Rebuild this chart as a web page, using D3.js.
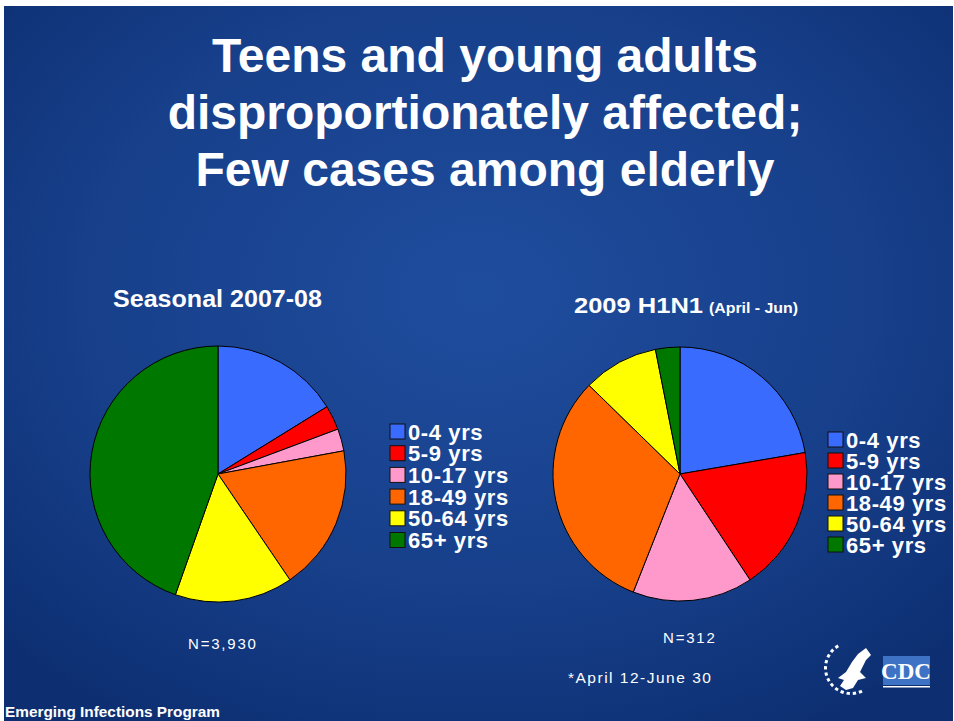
<!DOCTYPE html>
<meta charset="utf-8">
<script src="https://d3js.org/d3.v7.min.js"></script>
<style>
  body { margin: 0; background: #fff; }
  text { font-family: Arial, "Liberation Sans", sans-serif; fill: #fff; }
</style>
<svg id="chart" width="954" height="721"></svg>
<script>
// age groups and shares (%)
const ageGroups = ["0-4 yrs", "5-9 yrs", "10-17 yrs", "18-49 yrs", "50-64 yrs", "65+ yrs"];
const seasonal = [16.2, 3.1, 2.8, 18.4, 14.9, 44.6];
const h1n1 = [22.3, 18.4, 15.3, 31.3, 9.6, 3.1];
const sliceColors = ["#3a6bff", "#ff0000", "#ff99cc", "#ff6600", "#ffff00", "#007800"];
const titleLines = ["Teens and young adults", "disproportionately affected;", "Few cases among elderly"];

const svg = d3.select("#chart");

// background
const defs = svg.append("defs");
const grad = defs.append("radialGradient").attr("id", "bg")
  .attr("cx", "50%").attr("cy", "40%").attr("r", "70%");
grad.append("stop").attr("offset", "0%").attr("stop-color", "#1f4d9e");
grad.append("stop").attr("offset", "60%").attr("stop-color", "#173f8a");
grad.append("stop").attr("offset", "100%").attr("stop-color", "#0d2f72");

svg.append("rect")
  .attr("x", 4).attr("y", 6).attr("width", 949).attr("height", 715)
  .attr("fill", "url(#bg)");

// title
svg.append("g").selectAll("text")
  .data(titleLines)
  .join("text")
  .attr("x", 485)
  .attr("y", (d, i) => 72 + i * 57)
  .attr("text-anchor", "middle")
  .style("font-size", "48px")
  .style("font-weight", "bold")
  .text(d => d);

const color = d3.scaleOrdinal().domain(ageGroups).range(sliceColors);
const pie = d3.pie().sort(null).value(d => d.v);
const arc = d3.arc().innerRadius(0);

function drawPie(values, cx, cy, r) {
  const data = values.map((v, i) => ({ k: ageGroups[i], v: v }));
  const g = svg.append("g").attr("transform", `translate(${cx},${cy})`);
  g.selectAll("path")
    .data(pie(data))
    .join("path")
    .attr("d", arc.outerRadius(r))
    .attr("fill", d => color(d.data.k))
    .attr("stroke", "#000")
    .attr("stroke-width", 1);
}

function drawLegend(x, y, step) {
  const g = svg.append("g").attr("transform", `translate(${x},${y})`);
  const row = g.selectAll("g")
    .data(ageGroups)
    .join("g")
    .attr("transform", (d, i) => `translate(0,${i * step})`);
  row.append("rect")
    .attr("x", 0).attr("y", -8).attr("width", 15).attr("height", 15)
    .attr("fill", d => color(d))
    .attr("stroke", "#111").attr("stroke-width", 1);
  row.append("text")
    .attr("x", 18).attr("y", 7.5)
    .style("font-size", "22px")
    .style("letter-spacing", "0.6px")
    .style("font-weight", "bold")
    .text(d => d);
}

drawPie(seasonal, 218, 474, 128);
drawPie(h1n1, 680, 474, 127);
drawLegend(390, 432, 21.7);
drawLegend(828, 440, 21);

// pie headings
svg.append("text")
  .attr("x", 113).attr("y", 307)
  .attr("textLength", 209).attr("lengthAdjust", "spacingAndGlyphs")
  .style("font-size", "23px").style("font-weight", "bold")
  .text("Seasonal 2007-08");

svg.append("text")
  .attr("x", 574).attr("y", 313)
  .attr("textLength", 129).attr("lengthAdjust", "spacingAndGlyphs")
  .style("font-size", "22px").style("font-weight", "bold")
  .text("2009 H1N1");
svg.append("text")
  .attr("x", 709).attr("y", 313)
  .attr("textLength", 89).attr("lengthAdjust", "spacingAndGlyphs")
  .style("font-size", "14px").style("font-weight", "bold")
  .text("(April - Jun)");

// notes
svg.append("text")
  .attr("x", 188).attr("y", 649)
  .style("font-size", "15px").style("letter-spacing", "1.8px")
  .text("N=3,930");
svg.append("text")
  .attr("x", 663).attr("y", 643)
  .style("font-size", "15px").style("letter-spacing", "1.8px")
  .text("N=312");
svg.append("text")
  .attr("x", 568).attr("y", 683)
  .style("font-size", "15.5px").style("letter-spacing", "1.5px")
  .text("*April 12-June 30");
svg.append("text")
  .attr("x", 5).attr("y", 717)
  .attr("textLength", 215).attr("lengthAdjust", "spacingAndGlyphs")
  .style("font-size", "14.5px").style("font-weight", "bold")
  .text("Emerging Infections Program");

// logos (HHS and CDC)
const logo = svg.append("g");
const ring = d3.arc().innerRadius(24).outerRadius(27);
d3.range(-30, -200, -14).forEach(a => {
  const s = a * Math.PI / 180;
  logo.append("path")
    .attr("transform", "translate(851,668)")
    .attr("d", ring({ startAngle: s, endAngle: s - 0.13 }))
    .attr("fill", "#fff");
});
logo.append("path")
  .attr("d", "M866,648 L871,655 L866,660 L860,672 L866,678 L858,680 L853,688 L846,690 L840,686 L844,680 L838,678 L846,672 L852,662 L858,654 Z")
  .attr("fill", "#fff");
logo.append("rect")
  .attr("x", 883).attr("y", 656).attr("width", 47).attr("height", 29)
  .attr("fill", "#3d72c4");
logo.append("text")
  .attr("x", 906).attr("y", 679).attr("text-anchor", "middle")
  .style("font-family", "'Liberation Serif', 'DejaVu Serif', serif")
  .style("font-size", "23px")
  .style("font-weight", "bold")
  .text("CDC");
logo.append("rect")
  .attr("x", 883).attr("y", 686).attr("width", 47).attr("height", 1.5)
  .attr("fill", "#fff");
</script>
